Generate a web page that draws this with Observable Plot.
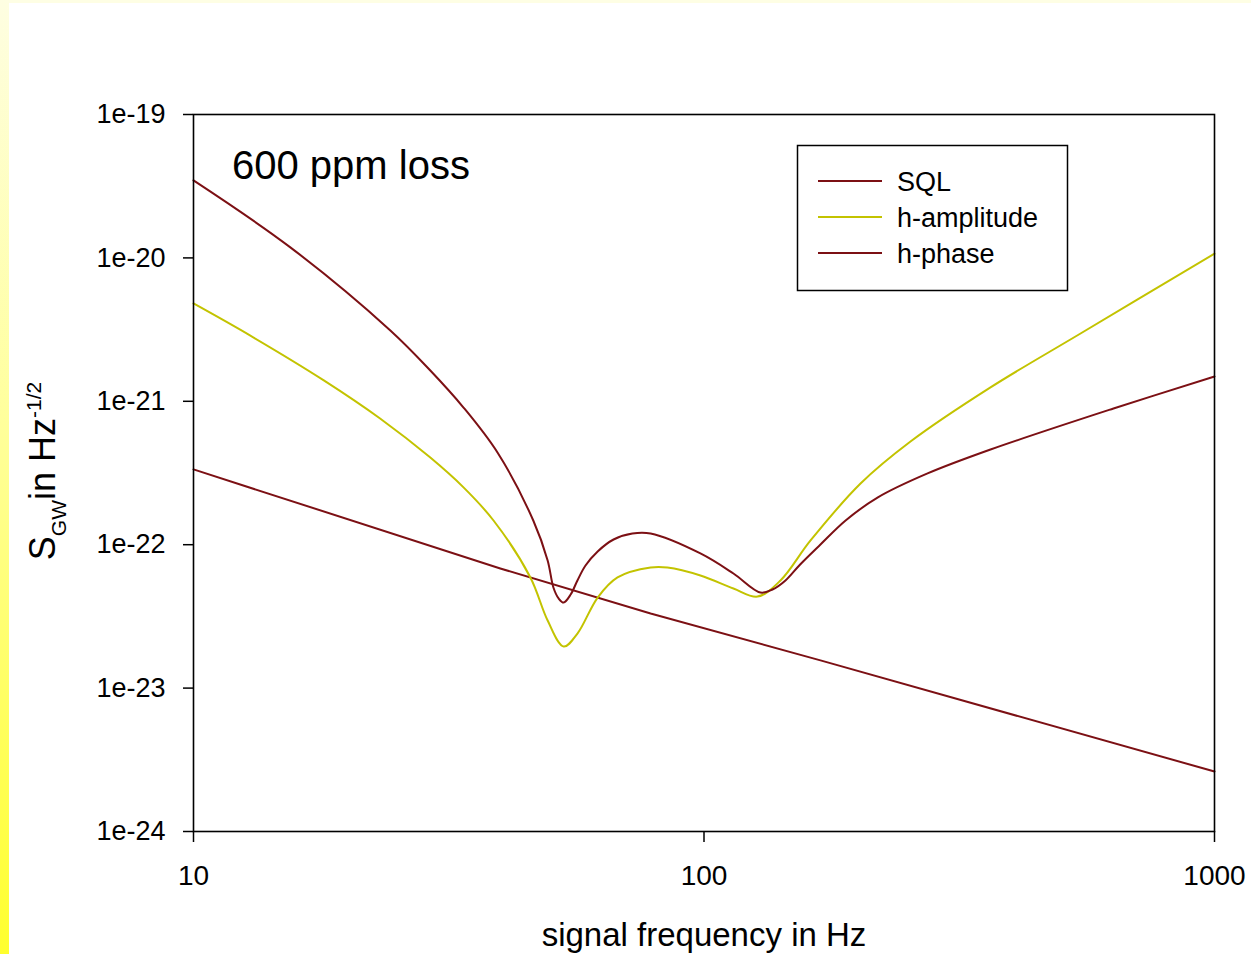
<!DOCTYPE html>
<html>
<head>
<meta charset="utf-8">
<script src="https://cdn.jsdelivr.net/npm/d3@7"></script>
<script src="https://cdn.jsdelivr.net/npm/@observablehq/plot@0.6"></script>
<style>
  html, body { margin: 0; padding: 0; background: #ffffff; }
  #wrap { position: relative; width: 1251px; height: 954px; overflow: hidden; background: #ffffff; }
  #leftStrip { position: absolute; left: 0; top: 0; width: 9px; height: 954px; z-index: 2;
    background: linear-gradient(to bottom, #fefee2 0%, #ffff9a 45%, #ffff2e 100%); }
  #topStrip { position: absolute; left: 9px; top: 0; width: 1242px; height: 3px; z-index: 2; background: #fefee4; }
  #chart { position: absolute; left: 0; top: 0; z-index: 1; }
</style>
</head>
<body>
<div id="wrap">
  <div id="leftStrip"></div>
  <div id="topStrip"></div>
  <div id="chart"></div>
</div>
<script>
// ---- data ----
const freqSQL = [10, 39.9, 78.6, 169.1, 1000];
const sqlValues = [3.35e-22, 6.83e-23, 3.31e-23, 1.56e-23, 2.62e-24];

const freqAmp = [10, 12.9, 18.0, 23.2, 29.1, 33.8, 38.7, 45.7, 49.4, 53.1, 56.5, 61.9, 67.7, 78.6, 84.8, 98.4, 114.2, 127.3, 141.2, 161.7, 202.6, 253.8, 364.1, 546.5, 1000];
const hAmplitude = [4.81e-21, 2.88e-21, 1.40e-21, 7.59e-22, 4.05e-22, 2.51e-22, 1.475e-22, 5.91e-23, 2.96e-23, 1.95e-23, 2.40e-23, 4.28e-23, 5.91e-23, 6.93e-23, 6.93e-23, 6.10e-23, 4.95e-23, 4.35e-23, 5.63e-23, 1.07e-22, 2.67e-22, 5.24e-22, 1.25e-21, 2.97e-21, 1.07e-20];

const freqPhase = [10, 15.5, 24.3, 29.1, 33.8, 39.4, 46.3, 49.4, 50.7, 51.9, 53.1, 54.8, 56.5, 58.6, 61.9, 66.5, 72.4, 78.6, 98.4, 114.2, 129.0, 136.2, 144.4, 154.3, 169.1, 189.4, 218.7, 274.1, 364.1, 634.1, 1000];
const hPhase = [3.47e-20, 1.18e-20, 3.12e-21, 1.64e-21, 9.05e-22, 4.39e-22, 1.475e-22, 7.76e-23, 5.03e-23, 4.22e-23, 3.95e-23, 4.49e-23, 5.63e-23, 7.16e-23, 8.97e-23, 1.087e-22, 1.197e-22, 1.197e-22, 8.69e-23, 6.30e-23, 4.64e-23, 4.87e-23, 5.63e-23, 7.28e-23, 1.003e-22, 1.475e-22, 2.13e-22, 3.14e-22, 4.61e-22, 8.91e-22, 1.49e-21];

const xTicks = [10, 100, 1000];
const xTickLabels = ["10", "100", "1000"];
const yTicks = [1e-19, 1e-20, 1e-21, 1e-22, 1e-23, 1e-24];
const yTickLabels = ["1e-19", "1e-20", "1e-21", "1e-22", "1e-23", "1e-24"];

const seriesNames = ["SQL", "h-amplitude", "h-phase"];
const seriesColors = ["#7c1014", "#c3c300", "#7c1014"];
const titleText = "600 ppm loss";

// ---- build tables ----
const sqlData = freqSQL.map((f, i) => ({f, v: sqlValues[i]}));
const ampData = freqAmp.map((f, i) => ({f, v: hAmplitude[i]}));
const phaseData = freqPhase.map((f, i) => ({f, v: hPhase[i]}));

const font = "'Liberation Sans', Arial, Helvetica, sans-serif";
const W = 1251, H = 954;
const mL = 193, mR = 37, mT = 114, mB = 123;

const plot = Plot.plot({
  width: W,
  height: H,
  marginLeft: mL,
  marginRight: mR,
  marginTop: mT,
  marginBottom: mB,
  style: {background: "transparent", fontFamily: font, color: "#000", overflow: "visible"},
  x: {type: "log", domain: [10, 1000]},
  y: {type: "log", domain: [1e-24, 1e-19]},
  marks: [
    Plot.line(sqlData, {x: "f", y: "v", stroke: seriesColors[0], strokeWidth: 2}),
    Plot.line(ampData, {x: "f", y: "v", stroke: seriesColors[1], strokeWidth: 2, curve: "catmull-rom"}),
    Plot.line(phaseData, {x: "f", y: "v", stroke: seriesColors[2], strokeWidth: 2, curve: "catmull-rom"}),
    Plot.frame({stroke: "#000", strokeWidth: 1.6}),
    Plot.axisX({ticks: xTicks, tickFormat: d => xTickLabels[xTicks.indexOf(d)], tickSize: 11, tickPadding: 23, fontSize: 28, label: null, strokeWidth: 1.5}),
    Plot.axisY({ticks: yTicks, tickFormat: d => yTickLabels[yTicks.findIndex(t => Math.abs(t - d) / t < 1e-6)], tickSize: 10, tickPadding: 18, fontSize: 27, label: null, strokeWidth: 1.5})
  ]
});

document.getElementById("chart").appendChild(plot);

const svg = d3.select(plot);

// title inside plot
svg.append("text")
  .attr("x", 232).attr("y", 179).attr("text-anchor", "start")
  .attr("font-family", font).attr("font-size", 40).attr("fill", "#000")
  .text(titleText);

// legend
const lg = svg.append("g").attr("font-family", font).attr("text-anchor", "start");
lg.append("rect").attr("x", 797.5).attr("y", 145.5).attr("width", 270).attr("height", 145)
  .attr("fill", "#fff").attr("stroke", "#000").attr("stroke-width", 1.5);
seriesNames.forEach((name, i) => {
  const y = 181 + i * 36;
  lg.append("line").attr("x1", 818).attr("x2", 882).attr("y1", y).attr("y2", y)
    .attr("stroke", seriesColors[i]).attr("stroke-width", 2);
  lg.append("text").attr("x", 897).attr("y", y).attr("dy", "0.36em").attr("text-anchor", "start")
    .attr("font-size", 27).attr("fill", "#000").text(name);
});

// x axis label
svg.append("text")
  .attr("x", 704).attr("y", 946).attr("text-anchor", "middle")
  .attr("font-family", font).attr("font-size", 33).attr("fill", "#000")
  .text("signal frequency in Hz");

// y axis label with sub/superscript
const yl = svg.append("text")
  .attr("transform", "translate(55,471) rotate(-90)")
  .attr("text-anchor", "middle")
  .attr("font-family", font).attr("font-size", 36).attr("fill", "#000");
yl.append("tspan").text("S");
yl.append("tspan").attr("dy", 11).attr("font-size", 21).text("GW");
yl.append("tspan").attr("dy", -11).text("in Hz");
yl.append("tspan").attr("dy", -14).attr("font-size", 21).text("-1/2");
</script>
</body>
</html>
